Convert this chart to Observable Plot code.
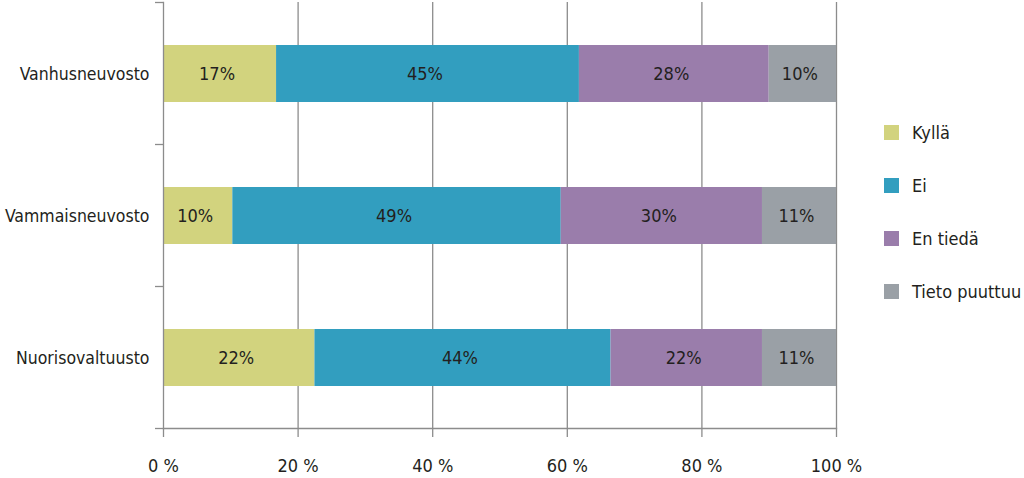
<!DOCTYPE html>
<html>
<head>
<meta charset="utf-8">
<script src="https://cdn.jsdelivr.net/npm/d3@7"></script>
<script src="https://cdn.jsdelivr.net/npm/@observablehq/plot@0.6"></script>
<style>
  html, body { margin: 0; padding: 0; background: #fff; }
  #wrap { position: relative; width: 1024px; height: 478px; font-family: "DejaVu Sans Condensed", "DejaVu Sans", sans-serif; color: #231f20; }
  #legend { position: absolute; left: 884px; top: 121px; font-size: 18px; }
  #legend .item { display: flex; align-items: center; height: 22px; margin-bottom: 31px; white-space: nowrap; }
  #legend .sw { width: 15px; height: 15px; margin-right: 13px; flex: none; }
</style>
</head>
<body>
<div id="wrap"></div>
<script>
const categories = ["Vanhusneuvosto", "Vammaisneuvosto", "Nuorisovaltuusto"];
const series = ["Kyllä", "Ei", "En tiedä", "Tieto puuttuu"];
const colors = ["#d2d37e", "#329ebf", "#9a7dab", "#9aa0a6"];
const kylla = [16.8, 10.3, 22.5];
const ei = [45.0, 48.8, 44.0];
const enTieda = [28.2, 29.9, 22.5];
const tietoPuuttuu = [10.0, 11.0, 11.0];
const kyllaLabels = ["17%", "10%", "22%"];
const eiLabels = ["45%", "49%", "44%"];
const enTiedaLabels = ["28%", "30%", "22%"];
const tietoLabels = ["10%", "11%", "11%"];
const xTicks = [0, 20, 40, 60, 80, 100];

const seriesValues = [kylla, ei, enTieda, tietoPuuttuu];
const seriesLabels = [kyllaLabels, eiLabels, enTiedaLabels, tietoLabels];
const data = [];
series.forEach((s, si) => categories.forEach((c, ci) => {
  data.push({category: c, series: s, value: seriesValues[si][ci], label: seriesLabels[si][ci]});
}));

const font = '"DejaVu Sans Condensed", "DejaVu Sans", sans-serif';
const lineColor = "#8c8c8c";

function bandBoundaryTicks(index, scales, values, dims) {
  const y = scales.y;
  const step = y.step();
  const half = (step - y.bandwidth()) / 2;
  const bounds = categories.map(c => y(c) - half);
  bounds.push(bounds[bounds.length - 1] + step);
  const g = d3.create("svg:g");
  g.selectAll("line").data(bounds).join("line")
    .attr("x1", dims.marginLeft - 8).attr("x2", dims.marginLeft)
    .attr("y1", d => d).attr("y2", d => d)
    .attr("stroke", lineColor).attr("stroke-width", 1.3);
  return g.node();
}

const chart = Plot.plot({
  width: 1024,
  height: 478,
  marginLeft: 163,
  marginRight: 188,
  marginTop: 2,
  marginBottom: 50,
  style: {fontFamily: font, fontSize: "18px", color: "#231f20", background: "white"},
  x: {domain: [0, 100], ticks: xTicks, tickFormat: d => d + " %", label: null},
  y: {domain: categories, paddingInner: 0.6, paddingOuter: 0.3, label: null},
  color: {domain: series, range: colors},
  marks: [
    Plot.gridX(xTicks.filter(t => t > 0), {stroke: lineColor, strokeOpacity: 1, strokeWidth: 1.3}),
    Plot.barX(data, Plot.stackX({x: "value", y: "category", fill: "series", z: "series", order: series})),
    Plot.text(data, Plot.stackX({x: "value", y: "category", z: "series", order: series, text: "label", fill: "#231f20", fontSize: 18, dx: -3})),
    Plot.frame({anchor: "left", stroke: lineColor, strokeWidth: 1.3}),
    Plot.frame({anchor: "bottom", stroke: lineColor, strokeWidth: 1.3}),
    bandBoundaryTicks,
    Plot.axisX({ticks: xTicks, tickFormat: d => d + " %", tickSize: 9, tickPadding: 22, stroke: lineColor, strokeWidth: 1.3, fontSize: 18, label: null}),
    Plot.axisY({tickSize: 0, tickPadding: 14, fontSize: 17.5, label: null})
  ]
});

const wrap = document.getElementById("wrap");
wrap.appendChild(chart);

const legend = document.createElement("div");
legend.id = "legend";
series.forEach((s, i) => {
  const item = document.createElement("div");
  item.className = "item";
  const sw = document.createElement("div");
  sw.className = "sw";
  sw.style.background = colors[i];
  const lab = document.createElement("span");
  lab.textContent = s;
  item.appendChild(sw);
  item.appendChild(lab);
  legend.appendChild(item);
});
wrap.appendChild(legend);
</script>
</body>
</html>
